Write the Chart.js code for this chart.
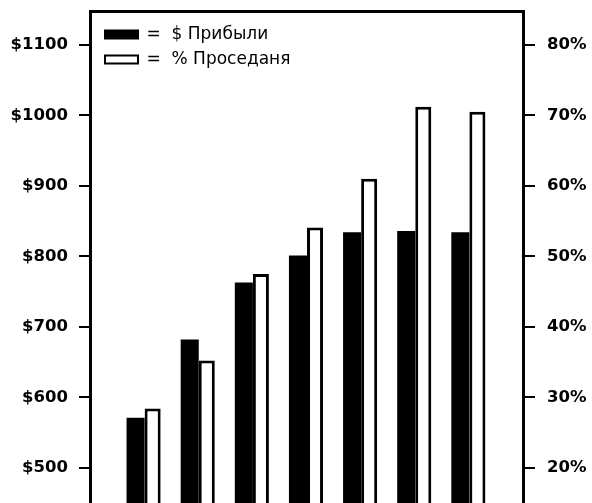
<!DOCTYPE html>
<html>
<head>
<meta charset="utf-8">
<script src="https://cdn.jsdelivr.net/npm/chart.js"></script>
<style>
  html, body { margin: 0; padding: 0; background: #fff; overflow: hidden; }
  #wrap { width: 592px; height: 503px; position: relative; }
</style>
</head>
<body>
<div id="wrap"><canvas id="chart"></canvas></div>
<script>
// данные графика
const categories = ['1', '2', '3', '4', '5', '6', '7'];
const profit = [571, 682, 763, 801, 834, 836, 834];          // $ Прибыли
const drawdown = [28.4, 35.2, 47.5, 54.1, 61.0, 71.2, 70.5]; // % Проседаня
const profitTicks = [500, 600, 700, 800, 900, 1000, 1100];
const drawdownTicks = [20, 30, 40, 50, 60, 70, 80];
const seriesNames = ['$ Прибыли', '% Проседаня'];

// пустая позиция с каждого края оси
const pad = arr => [null, ...arr, null];

const tickFont = { family: 'DejaVu Sans', size: 16.5, weight: 'bold' };

// легенда внутри поля графика, чуть правее и ниже угла
const legendOffset = {
    id: 'legendOffset',
    afterLayout(chart) {
        const lg = chart.legend;
        if (!lg) return;
        lg.left += 7; lg.right += 7;
        lg.top += 18; lg.bottom += 18;
    }
};

new Chart(document.getElementById('chart'), {
    type: 'bar',
    data: {
        labels: pad(categories).map(c => c || ''),
        datasets: [{
            label: seriesNames[0],
            data: pad(profit),
            backgroundColor: '#000',
            borderWidth: 0,
            barPercentage: 1.06,
            yAxisID: 'y'
        }, {
            label: seriesNames[1],
            data: pad(drawdown),
            backgroundColor: '#fff',
            borderColor: '#000',
            borderWidth: 3,
            barPercentage: 0.94,
            yAxisID: 'y1'
        }]
    },
    options: {
        responsive: true,
        maintainAspectRatio: false,
        animation: false,
        categoryPercentage: 0.63,
        layout: { padding: { top: 11, left: 0, right: 0, bottom: 0 } },
        plugins: {
            tooltip: { enabled: false },
            legend: {
                position: 'chartArea',
                align: 'start',
                labels: {
                    color: '#000',
                    font: { family: 'DejaVu Sans', size: 17 },
                    boxWidth: 33,
                    boxHeight: 8,
                    padding: 8,
                    generateLabels: chart => chart.data.datasets.map((ds, i) => ({
                        text: '=  ' + ds.label,
                        fillStyle: ds.backgroundColor,
                        strokeStyle: '#000',
                        lineWidth: 2,
                        fontColor: '#000',
                        datasetIndex: i,
                        hidden: false
                    }))
                }
            }
        },
        scales: {
            x: {
                position: 'top',
                offset: false,
                grid: { display: false },
                ticks: { display: false },
                border: { display: true, color: '#000', width: 3 },
                afterFit: s => { s.height = 0; }
            },
            y: {
                position: 'left',
                min: 450,
                max: 1148,
                grid: { drawOnChartArea: false, color: '#000', lineWidth: 2, tickLength: 11 },
                border: { display: true, color: '#000', width: 3 },
                ticks: {
                    color: '#000',
                    font: tickFont,
                    padding: 11,
                    callback: v => '$' + v
                },
                afterBuildTicks: s => { s.ticks = profitTicks.map(v => ({ value: v })); },
                afterFit: s => { s.width = 90; s.paddingTop = 0; s.paddingBottom = 0; }
            },
            y1: {
                position: 'right',
                min: 15,
                max: 84.8,
                grid: { drawOnChartArea: false, color: '#000', lineWidth: 2, tickLength: 12 },
                border: { display: true, color: '#000', width: 3 },
                ticks: {
                    color: '#000',
                    font: tickFont,
                    padding: 12,
                    callback: v => v + '%'
                },
                afterBuildTicks: s => { s.ticks = drawdownTicks.map(v => ({ value: v })); },
                afterFit: s => { s.width = 69; s.paddingTop = 0; s.paddingBottom = 0; }
            }
        }
    },
    plugins: [legendOffset]
});
</script>
</body>
</html>
